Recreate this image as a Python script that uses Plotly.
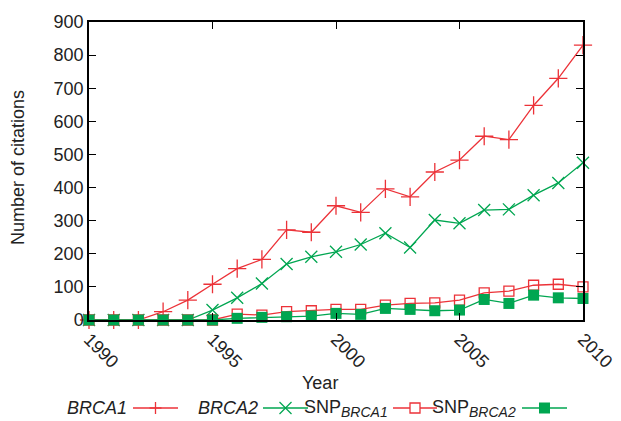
import plotly.graph_objects as go

years = list(range(1990, 2011))
brca1 = [0, 0, 0, 25, 60, 108, 155, 183, 272, 265, 345, 325, 396, 372, 447, 483, 555, 545, 648, 730, 830]
brca2 = [0, 0, 0, 0, 0, 30, 67, 110, 169, 191, 206, 228, 262, 219, 302, 292, 332, 334, 377, 414, 475]
snp_brca1 = [0, 0, 0, 0, 0, 0, 18, 15, 25, 28, 32, 32, 45, 50, 52, 60, 82, 87, 105, 108, 100]
snp_brca2 = [0, 0, 0, 0, 0, 0, 5, 8, 10, 12, 20, 17, 35, 32, 28, 30, 62, 50, 75, 67, 65]

RED = "#ec3238"
GREEN = "#00a651"
FONT = "Liberation Sans, Arial, sans-serif"
FS = 18

# the page body has an 8px margin; size the figure so the plot area lands
# at the reference position (x 89..583, y 22..320 in page pixels)
OFF = 8
W, H = 621 - OFF, 421 - OFF
PL, PR, PT, PB = 89, 583, 22, 320
ML, MR, MT = PL - OFF, 621 - PR, PT - OFF
MB = H - (PB - OFF)
PW, PH = PR - PL, PB - PT


def px_x(px):
    return (px - PL) / PW


def px_y(py):
    return (PB - py) / PH


fig = go.Figure()
series = [
    ("BRCA1", brca1, RED, dict(symbol="cross-thin-open", size=13, line=dict(color=RED, width=1.3))),
    ("BRCA2", brca2, GREEN, dict(symbol="x-thin-open", size=12, line=dict(color=GREEN, width=1.3))),
    ("SNP BRCA1", snp_brca1, RED, dict(symbol="square-open", size=10, color=RED, line=dict(color=RED, width=1.3))),
    ("SNP BRCA2", snp_brca2, GREEN, dict(symbol="square", size=11, color=GREEN, line=dict(width=0))),
]
for name, vals, col, mk in series:
    fig.add_trace(go.Scatter(
        x=years, y=vals, name=name, mode="lines+markers",
        line=dict(color=col, width=1.3), marker=mk, cliponaxis=False,
        showlegend=False,
    ))

axis_common = dict(
    showline=True, linecolor="black", linewidth=1.5, mirror="ticks",
    ticks="inside", ticklen=7, tickwidth=1.2, tickcolor="black",
    showgrid=False, zeroline=False, automargin=False,
    tickfont=dict(family=FONT, size=FS, color="#222"),
)
fig.update_xaxes(range=[1990, 2010], tickvals=[1990, 1995, 2000, 2005, 2010],
                 tickangle=45, **axis_common)
fig.update_yaxes(range=[0, 900], dtick=100, **axis_common)

annotations = [
    dict(text="Year", x=px_x(320), y=px_y(383), xref="paper", yref="paper",
         showarrow=False, font=dict(family=FONT, size=FS, color="#222"),
         xanchor="center", yanchor="middle"),
    dict(text="Number of citations", x=px_x(18), y=px_y(168), xref="paper", yref="paper",
         showarrow=False, textangle=-90, font=dict(family=FONT, size=FS, color="#222"),
         xanchor="center", yanchor="middle"),
]

# manual gnuplot-style legend: text followed by sample
leg_y = px_y(408)
SUB = '<sub><span style="font-size:14px"><i>%s</i></span></sub>'
legend_items = [
    ("<i>BRCA1</i>", 129, 133, 178, RED, "plus"),
    ("<i>BRCA2</i>", 260, 263, 308, GREEN, "x"),
    ("SNP" + SUB % "BRCA1", 390, 393, 437, RED, "sq_open"),
    ("SNP" + SUB % "BRCA2", 518, 522, 567, GREEN, "sq_fill"),
]
shapes = []
for txt, tx, l0, l1, col, kind in legend_items:
    annotations.append(dict(text=txt, x=px_x(tx), y=leg_y, xref="paper", yref="paper",
                            showarrow=False, xanchor="right", yanchor="middle",
                            font=dict(family=FONT, size=FS, color="#222")))
    shapes.append(dict(type="line", xref="paper", yref="paper",
                       x0=px_x(l0), x1=px_x(l1), y0=leg_y, y1=leg_y,
                       line=dict(color=col, width=1.3)))
    cx = px_x((l0 + l1) / 2)
    base = dict(xref="paper", yref="paper", xsizemode="pixel", ysizemode="pixel",
                xanchor=cx, yanchor=leg_y)
    if kind == "plus":
        shapes.append(dict(type="line", x0=-6, x1=6, y0=0, y1=0, line=dict(color=col, width=1.3), **base))
        shapes.append(dict(type="line", x0=0, x1=0, y0=-6, y1=6, line=dict(color=col, width=1.3), **base))
    elif kind == "x":
        shapes.append(dict(type="line", x0=-6, x1=6, y0=-6, y1=6, line=dict(color=col, width=1.3), **base))
        shapes.append(dict(type="line", x0=-6, x1=6, y0=6, y1=-6, line=dict(color=col, width=1.3), **base))
    elif kind == "sq_open":
        shapes.append(dict(type="rect", x0=-5, x1=5, y0=-5, y1=5, fillcolor="white",
                           line=dict(color=col, width=1.3), **base))
    else:
        shapes.append(dict(type="rect", x0=-5.5, x1=5.5, y0=-5.5, y1=5.5, fillcolor=col,
                           line=dict(color=col, width=0), **base))

fig.update_layout(
    width=W, height=H,
    margin=dict(l=ML, r=MR, t=MT, b=MB, autoexpand=False),
    paper_bgcolor="white", plot_bgcolor="white",
    font=dict(family=FONT, size=FS, color="#222"),
    annotations=annotations, shapes=shapes,
    showlegend=False,
)

fig.write_html("out.html")
